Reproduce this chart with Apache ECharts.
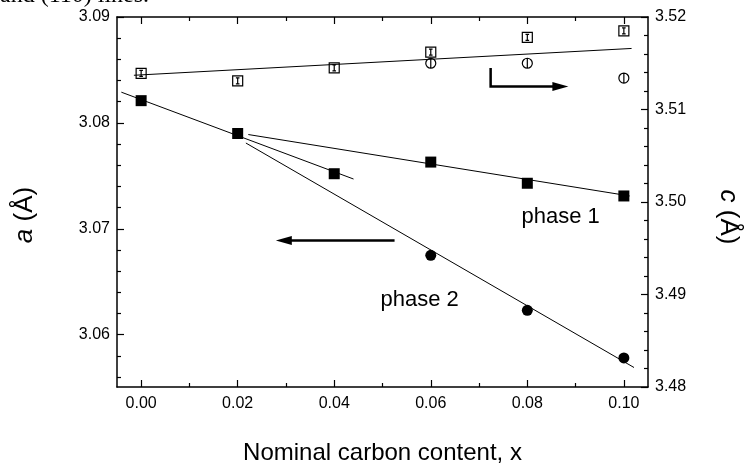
<!DOCTYPE html>
<html><head><meta charset="utf-8">
<script src="https://cdn.jsdelivr.net/npm/echarts@6/dist/echarts.min.js"></script>
<style>html,body{margin:0;padding:0;background:#fff}#c{width:744px;height:470px}</style>
</head><body><div id="c"></div>
<script>
// ---- data ----
const xValues = [0.00, 0.02, 0.04, 0.06, 0.08, 0.10];
const phase1A = [3.0821, 3.0790, 3.0752, 3.0763, 3.0743, 3.0731];   // filled squares, a axis
const phase2X = [0.06, 0.08, 0.10];
const phase2A = [3.0675, 3.0623, 3.0578];                           // filled circles, a axis
const cSquares = [3.5139, 3.5131, 3.5145, 3.5162, 3.5178, 3.5185];  // open squares, c axis
const cCircles = [3.5150, 3.5150, 3.5134];                          // open circles, c axis (at phase2X)
// fitted lines (endpoints)
const fitC   = [[-0.0015, 3.5137], [0.1016, 3.5166]];
const fitP1a = [[-0.0041, 3.0829], [0.0440, 3.0747]];
const fitP1b = [[0.0222, 3.0789], [0.1012, 3.0731]];
const fitP2  = [[0.0217, 3.0781], [0.1021, 3.0569]];
// ticks
const xMajorTicks = [0.00, 0.02, 0.04, 0.06, 0.08, 0.10];
const xMinorTicks = [0.01, 0.03, 0.05, 0.07, 0.09];
const aMajorTicks = [3.06, 3.07, 3.08, 3.09];
const aMinorTicks = [3.056, 3.058, 3.062, 3.064, 3.066, 3.068, 3.072, 3.074, 3.076, 3.078, 3.082, 3.084, 3.086, 3.088];
const xRange = [-0.005, 0.105];
const aRange = [3.05506, 3.09];
const cRange = [3.48, 3.52];

const FONT = '"Liberation Sans", Arial, sans-serif';
const black = '#000';
const chart = echarts.init(document.getElementById('c'), null, {renderer: 'canvas'});

function xAxisDef(pos, ticks, len, showLine, labels, extra) {
  return Object.assign({
    type: 'value', position: pos, min: xRange[0], max: xRange[1], gridIndex: 0,
    axisLine: {show: showLine, onZero: false, lineStyle: {color: black, width: 1.5}},
    axisTick: {show: true, inside: true, length: len, customValues: ticks, lineStyle: {color: black, width: 1.2}},
    axisLabel: {show: !!labels, customValues: ticks, margin: 9, color: black, fontSize: 16, fontFamily: FONT,
                formatter: v => v.toFixed(2)},
    splitLine: {show: false}
  }, extra || {});
}
function yAxisDef(pos, range, ticks, len, showLine, labels, extra) {
  return Object.assign({
    type: 'value', position: pos, min: range[0], max: range[1], gridIndex: 0,
    axisLine: {show: showLine, onZero: false, lineStyle: {color: black, width: 1.5}},
    axisTick: {show: true, inside: true, length: len, customValues: ticks, lineStyle: {color: black, width: 1.2}},
    axisLabel: {show: !!labels, customValues: ticks, margin: 7, color: black, fontSize: 16, fontFamily: FONT,
                formatter: v => v.toFixed(2)},
    splitLine: {show: false}
  }, extra || {});
}

const fitStyle = {color: black, width: 1};
function fitSeries(data, yi) {
  return {type: 'line', xAxisIndex: 0, yAxisIndex: yi, data: data, symbol: 'none',
          lineStyle: fitStyle, silent: true, z: 2};
}

chart.setOption({
  animation: false,
  backgroundColor: '#fff',
  grid: {left: 117, right: 96, top: 17, bottom: 80, containLabel: false},
  xAxis: [
    xAxisDef('bottom', xMajorTicks, 7, true, true, {
      name: 'Nominal carbon content, x', nameLocation: 'middle', nameGap: 54,
      nameTextStyle: {fontSize: 24, color: black, fontFamily: FONT}
    }),
    xAxisDef('bottom', xMinorTicks, 4, false, false),
    xAxisDef('top', xMajorTicks, 7, true, false),
    xAxisDef('top', xMinorTicks, 4, false, false)
  ],
  yAxis: [
    yAxisDef('left', aRange, aMajorTicks, 7, true, true),
    {
      type: 'value', position: 'right', min: cRange[0], max: cRange[1], interval: 0.01, gridIndex: 0,
      axisLine: {show: true, onZero: false, lineStyle: {color: black, width: 1.5}},
      axisTick: {show: true, inside: true, length: 7, lineStyle: {color: black, width: 1.2}},
      minorTick: {show: true, splitNumber: 5, length: 4, lineStyle: {color: black, width: 1.2}},
      axisLabel: {margin: 7, color: black, fontSize: 16, fontFamily: FONT, formatter: v => v.toFixed(2)},
      splitLine: {show: false}, minorSplitLine: {show: false}
    },
    yAxisDef('left', aRange, aMinorTicks, 4, false, false)
  ],
  series: [
    fitSeries(fitC, 1),
    fitSeries(fitP1a, 0),
    fitSeries(fitP1b, 0),
    fitSeries(fitP2, 0),
    {type: 'scatter', xAxisIndex: 0, yAxisIndex: 0, z: 5,
     data: xValues.map((x, i) => [x, phase1A[i]]),
     symbol: 'rect', symbolSize: 11, itemStyle: {color: black, opacity: 1}},
    {type: 'scatter', xAxisIndex: 0, yAxisIndex: 0, z: 5,
     data: phase2X.map((x, i) => [x, phase2A[i]]),
     symbol: 'circle', symbolSize: 11, itemStyle: {color: black, opacity: 1}},
    {type: 'scatter', xAxisIndex: 0, yAxisIndex: 1, z: 5,
     data: xValues.map((x, i) => [x, cSquares[i]]),
     symbol: 'path://M0,0H10V10H0Z M5,2V8 M3.2,2H6.8 M3.2,8H6.8', symbolSize: 10,
     itemStyle: {color: 'rgba(0,0,0,0)', borderColor: black, borderWidth: 1.2, opacity: 1}},
    {type: 'scatter', xAxisIndex: 0, yAxisIndex: 1, z: 5,
     data: phase2X.map((x, i) => [x, cCircles[i]]),
     symbol: 'path://M5,0A5,5 0 1,1 5,10A5,5 0 1,1 5,0Z M5,0V10', symbolSize: 10,
     itemStyle: {color: 'rgba(0,0,0,0)', borderColor: black, borderWidth: 1.2, opacity: 1}}
  ]
});

// ---- annotations placed through the axes ----
function px(x, y, yi) { return chart.convertToPixel({xAxisIndex: 0, yAxisIndex: yi}, [x, y]); }
const lArrowStart = px(0.0525, 3.0689, 0);
const lArrowTip = px(0.0279, 3.0689, 0);
const rArrowTop = px(0.0724, 3.5145, 1);
const rArrowCorner = px(0.0724, 3.5125, 1);
const rArrowTip = px(0.0885, 3.5125, 1);
const ph1 = px(0.0788, 3.0711, 0);
const ph2 = px(0.0496, 3.0633, 0);
const HL = 16, HW = 4.5;

chart.setOption({
  graphic: [
    {type: 'polyline', shape: {points: [lArrowStart, [lArrowTip[0] + HL - 2, lArrowTip[1]]]},
     style: {stroke: black, lineWidth: 2.5, fill: null}, z: 10},
    {type: 'polygon', shape: {points: [lArrowTip, [lArrowTip[0] + HL, lArrowTip[1] - HW], [lArrowTip[0] + HL, lArrowTip[1] + HW]]},
     style: {fill: black}, z: 10},
    {type: 'polyline', shape: {points: [rArrowTop, rArrowCorner, [rArrowTip[0] - HL + 2, rArrowTip[1]]]},
     style: {stroke: black, lineWidth: 2.5, fill: null}, z: 10},
    {type: 'polygon', shape: {points: [rArrowTip, [rArrowTip[0] - HL, rArrowTip[1] - HW], [rArrowTip[0] - HL, rArrowTip[1] + HW]]},
     style: {fill: black}, z: 10},
    {type: 'text', x: ph1[0], y: ph1[1], z: 10,
     style: {text: 'phase 1', fontSize: 22, fontFamily: FONT, fill: black, align: 'left', verticalAlign: 'middle'}},
    {type: 'text', x: ph2[0], y: ph2[1], z: 10,
     style: {text: 'phase 2', fontSize: 22, fontFamily: FONT, fill: black, align: 'left', verticalAlign: 'middle'}},
    {type: 'text', x: 25, y: 215, rotation: Math.PI / 2, z: 10,
     style: {text: '{i|a} (Å)', fontSize: 26, fontFamily: FONT, fill: black, align: 'center', verticalAlign: 'middle',
             rich: {i: {fontStyle: 'italic', fontSize: 26, fontFamily: FONT, fill: black}}}},
    {type: 'text', x: 728, y: 217, rotation: -Math.PI / 2, z: 10,
     style: {text: '{i|c} (Å)', fontSize: 26, fontFamily: FONT, fill: black, align: 'center', verticalAlign: 'middle',
             rich: {i: {fontStyle: 'italic', fontSize: 26, fontFamily: FONT, fill: black}}}},
    {type: 'text', x: 0, y: -4, z: 10,
     style: {text: 'and (110) lines.', fontSize: 24, fontFamily: '"Liberation Serif", "Times New Roman", serif',
             fill: black, align: 'left', verticalAlign: 'middle'}}
  ]
});
</script></body></html>
